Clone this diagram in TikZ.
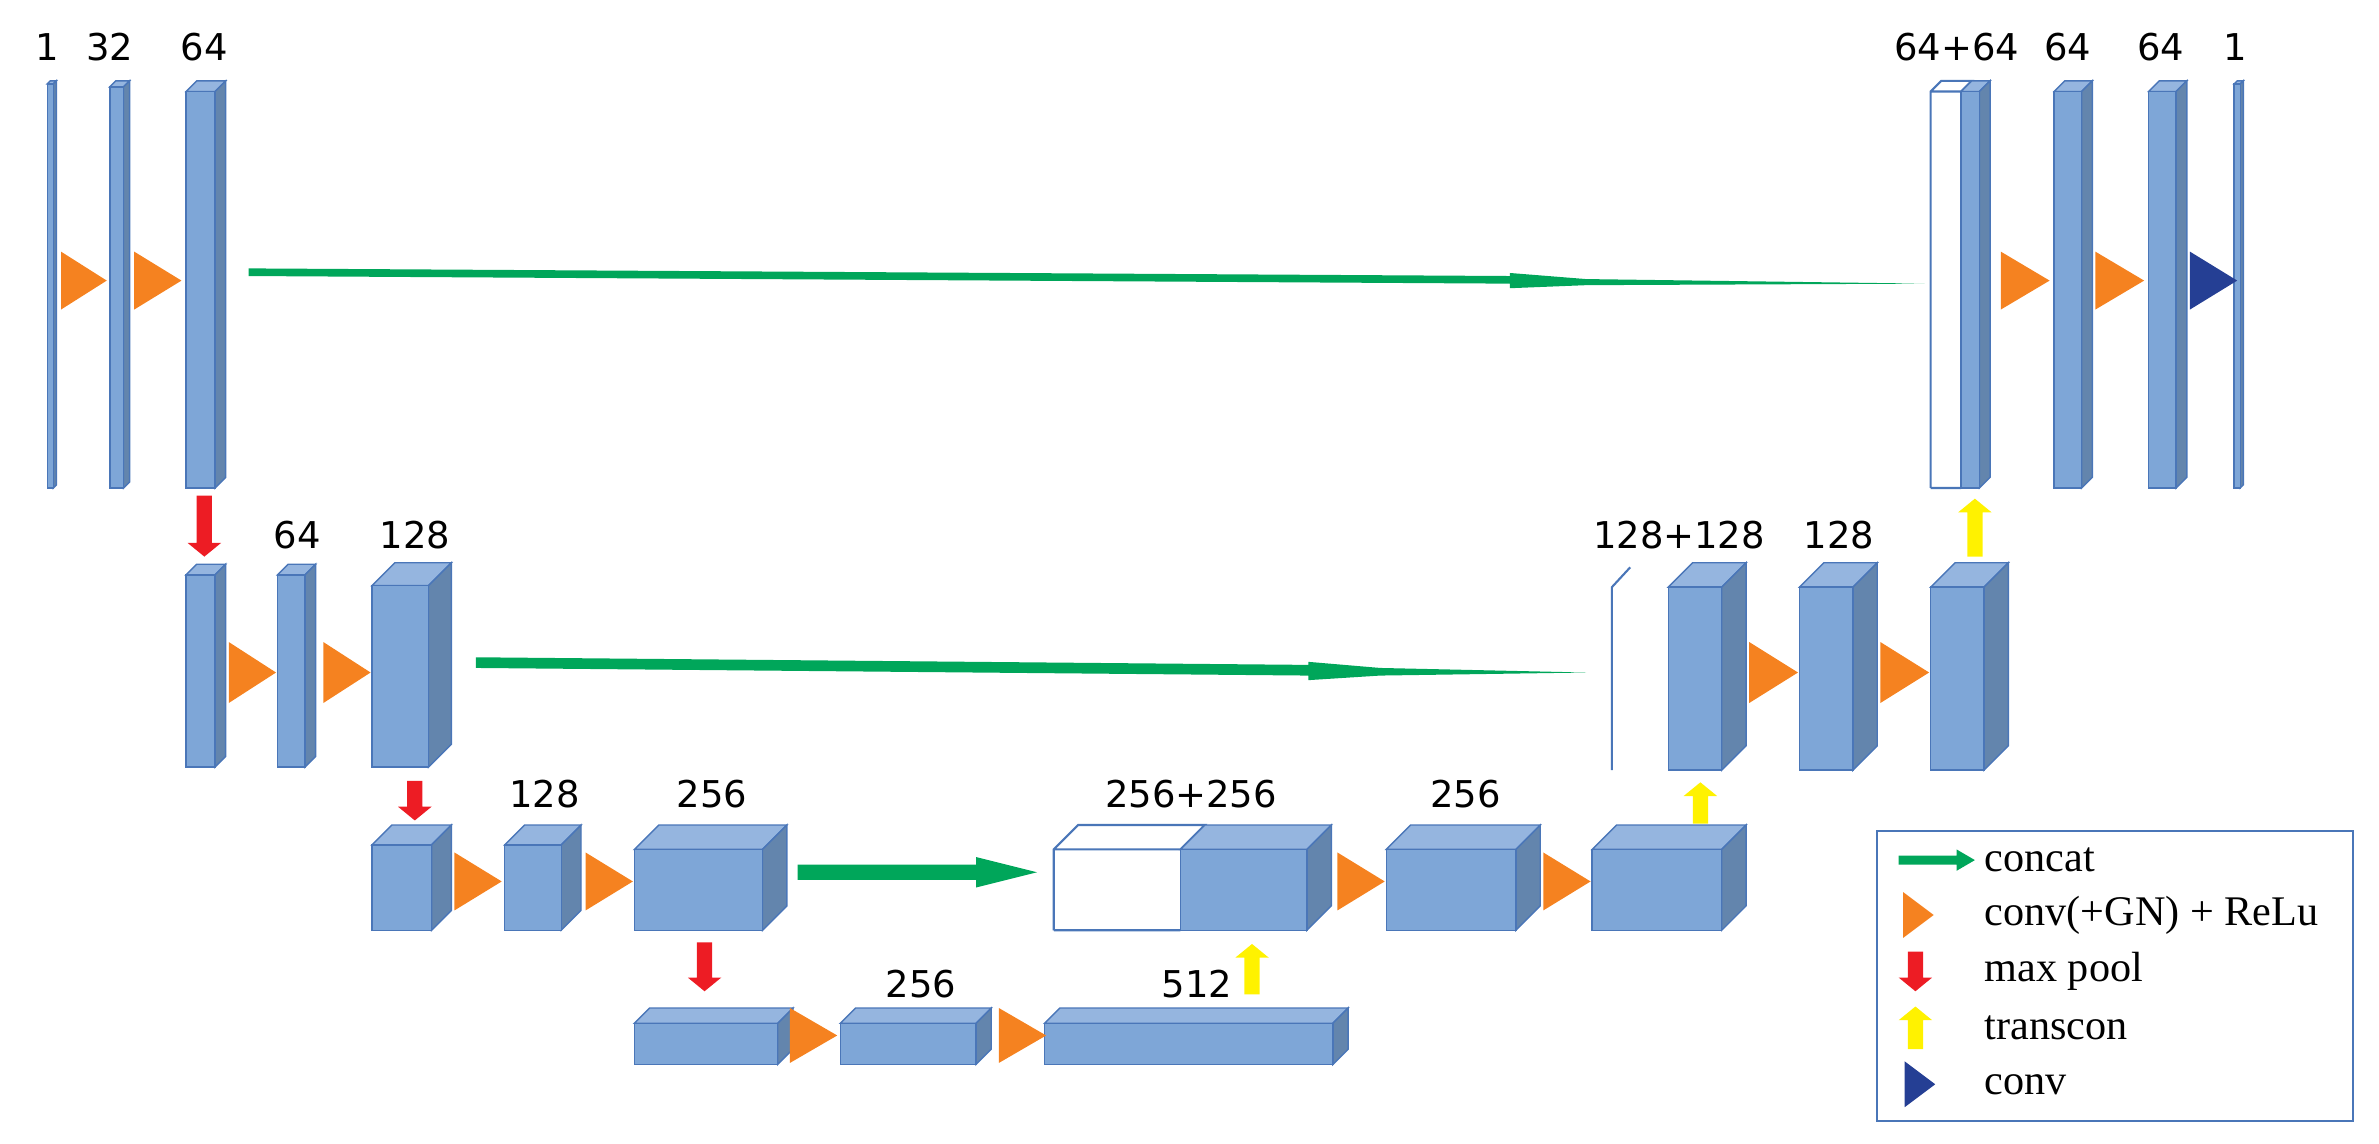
\documentclass[tikz,border=0pt]{standalone}
\usepackage{fontspec}
\setmainfont{Liberation Serif}
\newfontfamily\lblfont{DejaVu Sans}
\definecolor{bfront}{HTML}{7EA6D7}
\definecolor{bside}{HTML}{6385AD}
\definecolor{btop}{HTML}{95B5DF}
\definecolor{bedge}{HTML}{4A76B8}
\definecolor{corange}{HTML}{F58220}
\definecolor{cred}{HTML}{ED1C24}
\definecolor{cyel}{HTML}{FFF200}
\definecolor{cgreen}{HTML}{00A65A}
\definecolor{cdblue}{HTML}{253F94}
% x y w h d : front face top-left (x,y), width w, height h, depth d
\newcommand\mycube[5]{%
  \fill[btop,draw=bedge,line width=0.4pt] (#1,#2) -- ({#1+#5},{#2-#5}) -- ({#1+#3+#5},{#2-#5}) -- ({#1+#3},#2) -- cycle;
  \fill[bside,draw=bedge,line width=0.4pt] ({#1+#3},#2) -- ({#1+#3+#5},{#2-#5}) -- ({#1+#3+#5},{#2+#4-#5}) -- ({#1+#3},{#2+#4}) -- cycle;
  \fill[bfront,draw=bedge,line width=0.4pt] (#1,#2) rectangle ({#1+#3},{#2+#4});}
\newcommand\mywcube[5]{%
  \draw[bedge,line width=0.6pt,fill=white] (#1,{#2+#4}) -- (#1,#2) -- ({#1+#5},{#2-#5}) -- ({#1+#3+#5},{#2-#5}) -- ({#1+#3},#2) -- (#1,#2) (#1,{#2+#4}) -- ({#1+#3},{#2+#4});}
% x1 x2 yc halfheight color
\newcommand\mytri[5]{\fill[#5] (#1,{#3-#4}) -- (#2,#3) -- (#1,{#3+#4}) -- cycle;}
% down arrow: x ytop ybot
\newcommand\mydarr[3]{\fill[cred] ({#1-5},#2) -- ({#1+5},#2) -- ({#1+5},{#3-9}) -- ({#1+11},{#3-9}) -- (#1,#3) -- ({#1-11},{#3-9}) -- ({#1-5},{#3-9}) -- cycle;}
\newcommand\myuarr[3]{\fill[cyel] ({#1-5},#3) -- ({#1+5},#3) -- ({#1+5},{#2+9}) -- ({#1+11},{#2+9}) -- (#1,#2) -- ({#1-11},{#2+9}) -- ({#1-5},{#2+9}) -- cycle;}
\tikzset{lbl/.style={font=\lblfont\fontsize{10.5}{11}\selectfont,inner sep=0pt,anchor=center},
  leg/.style={font=\fontsize{12}{13}\selectfont,anchor=west,inner sep=0pt}}
\begin{document}
\begin{tikzpicture}[x=0.01525cm,y=-0.01525cm]
\useasboundingbox (0,0) rectangle (1560,750);
% ---- row 1
\mycube{31}{55}{4}{265}{2}
\mycube{72}{57}{9}{263}{4}
\mycube{122}{60}{19}{260}{7}
\node[lbl] (l1) at (31,31) {1};
\node[lbl] (l2) at (72,31) {32};
\node[lbl] (l3) at (134,31) {64};
\mytri{40}{70}{184}{19}{corange}
\mytri{88}{119}{184}{19}{corange}
\fill[cgreen] (163,176) -- (990,181) -- (990,179) -- (1040,183) -- (1262,186) -- (1040,187) -- (990,189) -- (990,186) -- (163,181) -- cycle;
\mywcube{1266}{60}{20}{260}{7}
\mycube{1286}{60}{12}{260}{7}
\mycube{1347}{60}{18}{260}{7}
\mycube{1409}{60}{18}{260}{7}
\mycube{1465}{55}{4}{265}{2}
\node[lbl] at (1283,31) {64+64};
\node[lbl] at (1356,31) {64};
\node[lbl] at (1417,31) {64};
\node[lbl] at (1466,31) {1};
\mytri{1312}{1344}{184}{19}{corange}
\mytri{1374}{1406}{184}{19}{corange}
\mytri{1436}{1467}{184}{19}{cdblue}
\myuarr{1295}{327}{365}
% ---- row 2
\mydarr{134}{325}{365}
\mycube{122}{377}{19}{126}{7}
\mycube{182}{377}{18}{126}{7}
\mycube{244}{384}{37}{119}{15}
\node[lbl] at (195,351) {64};
\node[lbl] at (272,351) {128};
\mytri{150}{181}{441}{20}{corange}
\mytri{212}{243}{441}{20}{corange}
\fill[cgreen] (312,431) -- (858,436) -- (858,434) -- (905,438) -- (1040,441) -- (905,443) -- (858,446) -- (858,443) -- (312,438) -- cycle;
\draw[bedge,line width=0.6pt] (1057,505) -- (1057,385) -- (1069,372);
\mycube{1094}{385}{35}{120}{16}
\mycube{1180}{385}{35}{120}{16}
\mycube{1266}{385}{35}{120}{16}
\node[lbl] at (1101,351) {128+128};
\node[lbl] at (1206,351) {128};
\mytri{1147}{1179}{441}{20}{corange}
\mytri{1233}{1265}{441}{20}{corange}
\myuarr{1115}{513}{540}
% ---- row 3
\mydarr{272}{512}{538}
\mycube{244}{554}{39}{56}{13}
\mycube{331}{554}{37}{56}{13}
\mycube{416}{557}{84}{53}{16}
\node[lbl] at (357,521) {128};
\node[lbl] at (467,521) {256};
\mytri{298}{329}{578}{19}{corange}
\mytri{384}{415}{578}{19}{corange}
\fill[cgreen] (523,567) -- (640,567) -- (640,562) -- (680,572) -- (640,582) -- (640,577) -- (523,577) -- cycle;
\mywcube{691}{557}{83}{53}{16}
\mycube{774}{557}{83}{53}{16}
\mycube{909}{557}{85}{53}{16}
\mycube{1044}{557}{85}{53}{16}
\node[lbl] at (781,521) {256+256};
\node[lbl] at (961,521) {256};
\mytri{877}{908}{578}{19}{corange}
\mytri{1012}{1043}{578}{19}{corange}
\myuarr{821}{619}{652}
% ---- row 4
\mydarr{462}{618}{650}
\mycube{416}{671}{94}{27}{10}
\mycube{551}{671}{89}{27}{10}
\mycube{685}{671}{189}{27}{10}
\node[lbl] at (604,645) {256};
\node[lbl] at (785,645) {512};
\mytri{518}{549}{679}{18}{corange}
\mytri{655}{686}{679}{18}{corange}
% ---- legend
\draw[bedge,line width=0.6pt] (1231,545) rectangle (1543,735);
\fill[cgreen] (1245,561) -- (1283,561) -- (1283,557) -- (1295,564) -- (1283,571) -- (1283,567) -- (1245,567) -- cycle;
\node[leg] at (1301,564) {concat};
\mytri{1248}{1268}{600}{15}{corange}
\node[leg] at (1301,600) {conv(+GN) + ReLu};
\mydarr{1256}{624}{650}
\node[leg] at (1301,637) {max pool};
\myuarr{1256}{660}{688}
\node[leg] at (1301,674) {transcon};
\mytri{1249}{1269}{711}{15}{cdblue}
\node[leg] at (1301,711) {conv};
\end{tikzpicture}
\end{document}
